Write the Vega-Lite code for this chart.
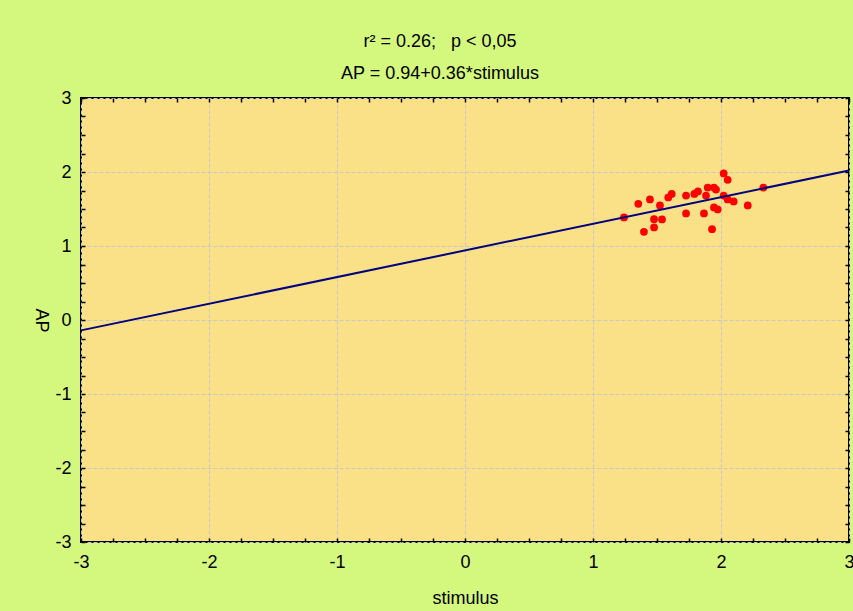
{
  "$schema": "https://vega.github.io/schema/vega-lite/v6.json",
  "width": 768,
  "height": 444,
  "autosize": "none",
  "padding": {"left": 81, "top": 98, "right": 4, "bottom": 69},
  "background": "#D4F77E",
  "config": {
    "font": "Liberation Sans",
    "view": {"fill": "#FAE086", "stroke": "#000000", "strokeWidth": 2},
    "axis": {
      "domain": false,
      "labelFont": "Liberation Sans",
      "labelFontSize": 18,
      "labelColor": "#000000",
      "titleFont": "Liberation Sans",
      "titleFontSize": 18,
      "titleFontWeight": "normal",
      "titleColor": "#000000",
      "tickColor": "#000000",
      "tickSize": -4,
      "tickWidth": 1.5,
      "gridColor": "#C8C8C8",
      "gridDash": [4, 2],
      "gridWidth": 1
    }
  },
  "title": {
    "text": ["r² = 0.26;\u00a0\u00a0 p < 0,05", "AP = 0.94+0.36*stimulus"],
    "font": "Liberation Sans",
    "fontSize": 18,
    "fontWeight": "normal",
    "color": "#000000",
    "lineHeight": 32,
    "anchor": "middle",
    "dx": -25,
    "offset": 6
  },
  "layer": [
    {
      "data": {"values": [
        {"stimulus": 1.242, "AP": 1.386},
        {"stimulus": 1.354, "AP": 1.570},
        {"stimulus": 1.445, "AP": 1.629},
        {"stimulus": 1.523, "AP": 1.548},
        {"stimulus": 1.477, "AP": 1.363},
        {"stimulus": 1.539, "AP": 1.359},
        {"stimulus": 1.477, "AP": 1.251},
        {"stimulus": 1.398, "AP": 1.191},
        {"stimulus": 1.588, "AP": 1.656},
        {"stimulus": 1.615, "AP": 1.704},
        {"stimulus": 1.727, "AP": 1.682},
        {"stimulus": 1.727, "AP": 1.440},
        {"stimulus": 1.792, "AP": 1.704},
        {"stimulus": 1.820, "AP": 1.737},
        {"stimulus": 1.867, "AP": 1.440},
        {"stimulus": 1.883, "AP": 1.682},
        {"stimulus": 1.896, "AP": 1.790},
        {"stimulus": 1.945, "AP": 1.790},
        {"stimulus": 1.961, "AP": 1.763},
        {"stimulus": 1.945, "AP": 1.521},
        {"stimulus": 1.974, "AP": 1.494},
        {"stimulus": 1.930, "AP": 1.228},
        {"stimulus": 2.021, "AP": 1.980},
        {"stimulus": 2.052, "AP": 1.894},
        {"stimulus": 2.021, "AP": 1.682},
        {"stimulus": 2.052, "AP": 1.629},
        {"stimulus": 2.099, "AP": 1.602},
        {"stimulus": 2.209, "AP": 1.548},
        {"stimulus": 2.331, "AP": 1.790}
      ]},
      "mark": {"type": "point", "filled": true, "color": "#FF0000", "opacity": 1, "size": 60},
      "encoding": {
        "x": {
          "field": "stimulus", "type": "quantitative",
          "scale": {"domain": [-3, 3], "nice": false, "zero": false},
          "axis": {
            "orient": "bottom",
            "values": [-3, -2.75, -2.5, -2.25, -2, -1.75, -1.5, -1.25, -1, -0.75, -0.5, -0.25, 0, 0.25, 0.5, 0.75, 1, 1.25, 1.5, 1.75, 2, 2.25, 2.5, 2.75, 3],
            "labelExpr": "datum.value % 1 == 0 ? '' + datum.value : ''",
            "gridOpacity": {"condition": {"test": "datum.value % 1 != 0", "value": 0}, "value": 1},
            "labelPadding": 15,
            "labelFlush": false,
            "labelOverlap": false,
            "title": "stimulus",
            "titlePadding": 18
          }
        },
        "y": {
          "field": "AP", "type": "quantitative",
          "scale": {"domain": [-3, 3], "nice": false, "zero": false},
          "axis": {
            "orient": "left",
            "values": [-3, -2.75, -2.5, -2.25, -2, -1.75, -1.5, -1.25, -1, -0.75, -0.5, -0.25, 0, 0.25, 0.5, 0.75, 1, 1.25, 1.5, 1.75, 2, 2.25, 2.5, 2.75, 3],
            "labelExpr": "datum.value % 1 == 0 ? '' + datum.value : ''",
            "gridOpacity": {"condition": {"test": "datum.value % 1 != 0", "value": 0}, "value": 1},
            "labelPadding": 14,
            "labelFlush": false,
            "labelOverlap": false,
            "title": "AP",
            "titleAngle": 90,
            "titlePadding": 23
          }
        }
      }
    },
    {
      "data": {"values": [
        {"stimulus": -3, "AP": -0.14},
        {"stimulus": 3, "AP": 2.02}
      ]},
      "mark": {"type": "line", "color": "#000080", "strokeWidth": 2},
      "encoding": {
        "x": {
          "field": "stimulus", "type": "quantitative",
          "axis": {
            "orient": "top",
            "values": [-3, -2.75, -2.5, -2.25, -2, -1.75, -1.5, -1.25, -1, -0.75, -0.5, -0.25, 0, 0.25, 0.5, 0.75, 1, 1.25, 1.5, 1.75, 2, 2.25, 2.5, 2.75, 3],
            "labels": false, "grid": false, "title": null
          }
        },
        "y": {
          "field": "AP", "type": "quantitative",
          "axis": {
            "orient": "right",
            "values": [-3, -2.75, -2.5, -2.25, -2, -1.75, -1.5, -1.25, -1, -0.75, -0.5, -0.25, 0, 0.25, 0.5, 0.75, 1, 1.25, 1.5, 1.75, 2, 2.25, 2.5, 2.75, 3],
            "labels": false, "grid": false, "title": null
          }
        }
      }
    }
  ],
  "resolve": {"axis": {"x": "independent", "y": "independent"}}
}
